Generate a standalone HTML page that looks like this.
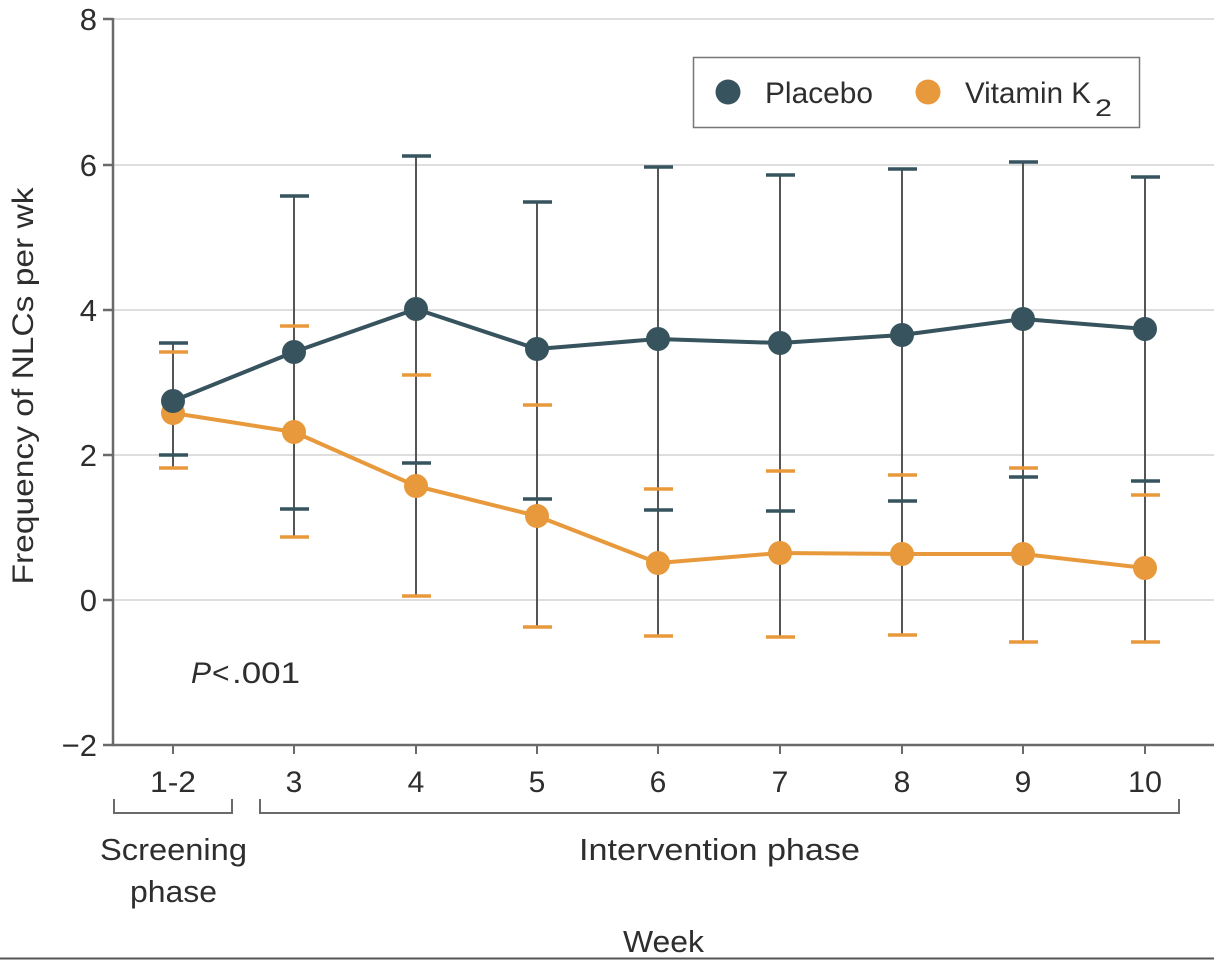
<!DOCTYPE html>
<html><head><meta charset="utf-8"><style>
html,body{margin:0;padding:0;background:#fff;}
svg{display:block;}
text{font-family:"Liberation Sans",sans-serif;fill:#2e2e2e;}
</style></head><body>
<svg width="1214" height="960" viewBox="0 0 1214 960" xmlns="http://www.w3.org/2000/svg">
<!-- gridlines -->
<g stroke="#dedede" stroke-width="2">
<line x1="113" y1="19" x2="1214" y2="19"/>
<line x1="113" y1="165" x2="1214" y2="165"/>
<line x1="113" y1="310" x2="1214" y2="310"/>
<line x1="113" y1="455" x2="1214" y2="455"/>
<line x1="113" y1="600" x2="1214" y2="600"/>
</g>
<!-- axes -->
<g stroke="#6a6a6a" stroke-width="2.5" fill="none">
<line x1="113" y1="18" x2="113" y2="745"/>
<line x1="112" y1="745" x2="1214" y2="745"/>
<line x1="103" y1="19" x2="113" y2="19"/>
<line x1="103" y1="165" x2="113" y2="165"/>
<line x1="103" y1="310" x2="113" y2="310"/>
<line x1="103" y1="455" x2="113" y2="455"/>
<line x1="103" y1="600" x2="113" y2="600"/>
<line x1="103" y1="745" x2="113" y2="745"/>
</g>
<g stroke="#6a6a6a" stroke-width="2">
<line x1="173" y1="745" x2="173" y2="754"/>
<line x1="294" y1="745" x2="294" y2="754"/>
<line x1="416" y1="745" x2="416" y2="754"/>
<line x1="537" y1="745" x2="537" y2="754"/>
<line x1="658" y1="745" x2="658" y2="754"/>
<line x1="780" y1="745" x2="780" y2="754"/>
<line x1="902" y1="745" x2="902" y2="754"/>
<line x1="1023" y1="745" x2="1023" y2="754"/>
<line x1="1145" y1="745" x2="1145" y2="754"/>
</g>
<!-- y tick labels -->
<g font-size="31" text-anchor="end">
<text x="97" y="30">8</text>
<text x="97" y="176">6</text>
<text x="97" y="321">4</text>
<text x="97" y="466">2</text>
<text x="97" y="611">0</text>
<text x="97" y="756">−2</text>
</g>
<!-- y label -->
<text transform="translate(33,386) rotate(-90)" font-size="30" text-anchor="middle" textLength="397" lengthAdjust="spacingAndGlyphs">Frequency of NLCs per wk</text>
<!-- x tick labels -->
<g font-size="30" text-anchor="middle">
<text x="173" y="792" textLength="46" lengthAdjust="spacingAndGlyphs">1-2</text>
<text x="294" y="792">3</text>
<text x="416" y="792">4</text>
<text x="537" y="792">5</text>
<text x="658" y="792">6</text>
<text x="780" y="792">7</text>
<text x="902" y="792">8</text>
<text x="1023" y="792">9</text>
<text x="1145" y="792" textLength="34" lengthAdjust="spacingAndGlyphs">10</text>
</g>
<!-- brackets -->
<g stroke="#6a6a6a" stroke-width="2" fill="none">
<polyline points="114,799 114,813 232,813 232,799"/>
<polyline points="260,799 260,813 1179,813 1179,799"/>
</g>
<text x="100" y="860" font-size="31" textLength="147" lengthAdjust="spacingAndGlyphs">Screening</text>
<text x="130" y="902" font-size="31" textLength="87" lengthAdjust="spacingAndGlyphs">phase</text>
<text x="579" y="860" font-size="31" textLength="281" lengthAdjust="spacingAndGlyphs">Intervention phase</text>
<text x="623" y="952" font-size="31" textLength="81" lengthAdjust="spacingAndGlyphs">Week</text>
<!-- P value -->
<text x="191" y="683" font-size="30" font-style="italic">P</text>
<text x="212" y="683" font-size="30">&lt;</text>
<text x="232" y="683" font-size="30" textLength="68" lengthAdjust="spacingAndGlyphs">.001</text>
<!-- bottom rule -->
<line x1="0" y1="958.5" x2="1214" y2="958.5" stroke="#555" stroke-width="2"/>
<!-- error bar verticals -->
<g stroke="#555" stroke-width="2">
<line x1="173" y1="343" x2="173" y2="468"/>
<line x1="294" y1="196" x2="294" y2="537"/>
<line x1="416" y1="156" x2="416" y2="596"/>
<line x1="537" y1="202" x2="537" y2="627"/>
<line x1="658" y1="167" x2="658" y2="636"/>
<line x1="780" y1="175" x2="780" y2="637"/>
<line x1="902" y1="169" x2="902" y2="635"/>
<line x1="1023" y1="162" x2="1023" y2="642"/>
<line x1="1145" y1="177" x2="1145" y2="642"/>
</g>
<!-- orange caps -->
<g stroke="#e8993b" stroke-width="3.5">
<line x1="159" y1="352" x2="188" y2="352"/><line x1="159" y1="468" x2="188" y2="468"/>
<line x1="280" y1="326" x2="309" y2="326"/><line x1="280" y1="537" x2="309" y2="537"/>
<line x1="402" y1="375" x2="431" y2="375"/><line x1="402" y1="596" x2="431" y2="596"/>
<line x1="523" y1="405" x2="552" y2="405"/><line x1="523" y1="627" x2="552" y2="627"/>
<line x1="644" y1="489" x2="673" y2="489"/><line x1="644" y1="636" x2="673" y2="636"/>
<line x1="766" y1="471" x2="795" y2="471"/><line x1="766" y1="637" x2="795" y2="637"/>
<line x1="888" y1="475" x2="917" y2="475"/><line x1="888" y1="635" x2="917" y2="635"/>
<line x1="1009" y1="468" x2="1038" y2="468"/><line x1="1009" y1="642" x2="1038" y2="642"/>
<line x1="1131" y1="495" x2="1160" y2="495"/><line x1="1131" y1="642" x2="1160" y2="642"/>
</g>
<!-- placebo caps -->
<g stroke="#37535e" stroke-width="3.5">
<line x1="159" y1="343" x2="188" y2="343"/><line x1="159" y1="455" x2="188" y2="455"/>
<line x1="280" y1="196" x2="309" y2="196"/><line x1="280" y1="509" x2="309" y2="509"/>
<line x1="402" y1="156" x2="431" y2="156"/><line x1="402" y1="463" x2="431" y2="463"/>
<line x1="523" y1="202" x2="552" y2="202"/><line x1="523" y1="499" x2="552" y2="499"/>
<line x1="644" y1="167" x2="673" y2="167"/><line x1="644" y1="510" x2="673" y2="510"/>
<line x1="766" y1="175" x2="795" y2="175"/><line x1="766" y1="511" x2="795" y2="511"/>
<line x1="888" y1="169" x2="917" y2="169"/><line x1="888" y1="501" x2="917" y2="501"/>
<line x1="1009" y1="162" x2="1038" y2="162"/><line x1="1009" y1="477" x2="1038" y2="477"/>
<line x1="1131" y1="177" x2="1160" y2="177"/><line x1="1131" y1="481" x2="1160" y2="481"/>
</g>
<!-- vitamin series -->
<polyline fill="none" stroke="#e8993b" stroke-width="4" stroke-linejoin="round" points="173,413 294,432 416,486 537,516 658,563 780,553 902,554 1023,554 1145,568"/>
<g fill="#e8993b">
<circle cx="173" cy="413" r="12"/><circle cx="294" cy="432" r="12"/><circle cx="416" cy="486" r="12"/>
<circle cx="537" cy="516" r="12"/><circle cx="658" cy="563" r="12"/><circle cx="780" cy="553" r="12"/>
<circle cx="902" cy="554" r="12"/><circle cx="1023" cy="554" r="12"/><circle cx="1145" cy="568" r="12"/>
</g>
<!-- placebo series -->
<polyline fill="none" stroke="#37535e" stroke-width="4" stroke-linejoin="round" points="173,401 294,352 416,309 537,349 658,339 780,343 902,335 1023,319 1145,329"/>
<g fill="#37535e">
<circle cx="173" cy="401" r="12"/><circle cx="294" cy="352" r="12"/><circle cx="416" cy="309" r="12"/>
<circle cx="537" cy="349" r="12"/><circle cx="658" cy="339" r="12"/><circle cx="780" cy="343" r="12"/>
<circle cx="902" cy="335" r="12"/><circle cx="1023" cy="319" r="12"/><circle cx="1145" cy="329" r="12"/>
</g>
<!-- legend -->
<rect x="693.5" y="57.5" width="446" height="70" fill="#fff" stroke="#777" stroke-width="1.5"/>
<circle cx="728" cy="92" r="12.5" fill="#37535e"/>
<text x="765" y="103" font-size="30" textLength="108" lengthAdjust="spacingAndGlyphs">Placebo</text>
<circle cx="928" cy="92" r="12.5" fill="#e8993b"/>
<text x="965" y="103" font-size="30" textLength="126" lengthAdjust="spacingAndGlyphs">Vitamin K</text>
<text x="1095" y="116" font-size="24" textLength="17" lengthAdjust="spacingAndGlyphs">2</text>
</svg>
</body></html>
